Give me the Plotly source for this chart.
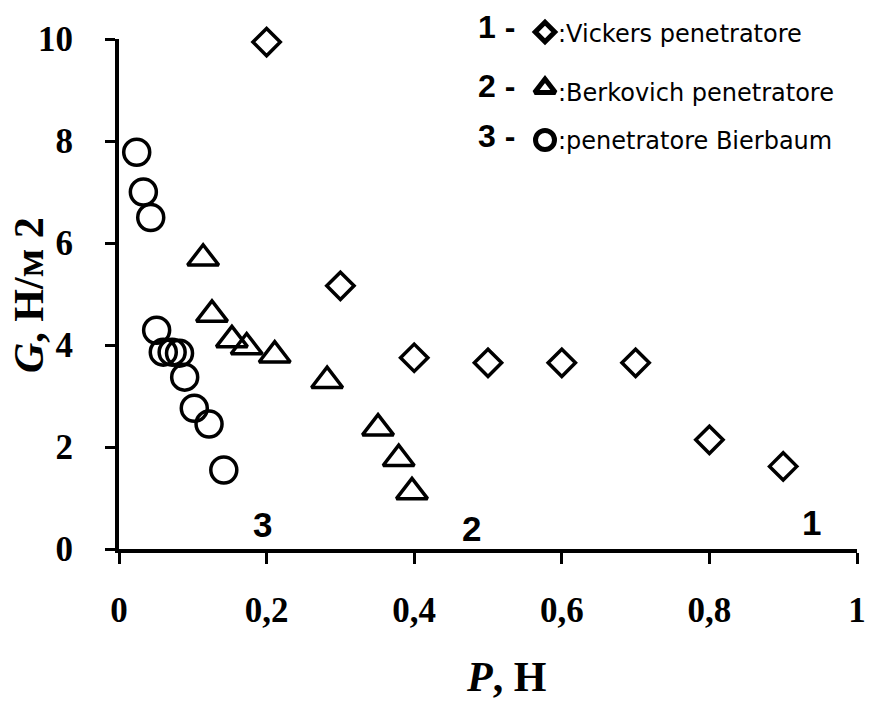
import plotly.graph_objects as go

# Data
vickers_p = [0.2, 0.3, 0.4, 0.5, 0.6, 0.7, 0.8, 0.9]
vickers_g = [9.94, 5.16, 3.75, 3.65, 3.65, 3.65, 2.14, 1.62]

berk_p = [0.114, 0.126, 0.153, 0.173, 0.211, 0.282, 0.351, 0.379, 0.397]
berk_g = [5.7, 4.6, 4.1, 3.96, 3.8, 3.3, 2.37, 1.77, 1.12]

bier_p = [0.024, 0.033, 0.043, 0.051, 0.060, 0.072, 0.082, 0.089, 0.102, 0.122, 0.142]
bier_g = [7.78, 7.0, 6.5, 4.29, 3.86, 3.86, 3.84, 3.37, 2.76, 2.45, 1.55]

x_ticks = [0, 0.2, 0.4, 0.6, 0.8, 1]
x_ticklabels = ["0", "0,2", "0,4", "0,6", "0,8", "1"]
y_ticks = [0, 2, 4, 6, 8, 10]

legend_nums = ["1 -", "2 -", "3 -"]
legend_texts = [":Vickers penetratore", ":Berkovich penetratore", ":penetratore Bierbaum"]
legend_symbols = ["diamond-open", "triangle-up-open", "circle-open"]

curve_labels = ["1", "2", "3"]
curve_label_p = [0.939, 0.477, 0.194]
curve_label_g = [0.51, 0.41, 0.49]

W, H = 875, 701
# plot area in pixels
PL, PR, PT, PB = 119, 857, 39, 549

fig = go.Figure()

fig.add_trace(go.Scatter(x=vickers_p, y=vickers_g, mode="markers", cliponaxis=False,
                         marker=dict(symbol="diamond-open", size=21, color="black", line=dict(width=3.5, color="black")),
                         showlegend=False))
fig.add_trace(go.Scatter(x=berk_p, y=berk_g, mode="markers", cliponaxis=False,
                         marker=dict(symbol="triangle-up-open", size=27, color="black", line=dict(width=3.5, color="black")),
                         showlegend=False))
fig.add_trace(go.Scatter(x=bier_p, y=bier_g, mode="markers", cliponaxis=False,
                         marker=dict(symbol="circle-open", size=26, color="black", line=dict(width=3.5, color="black")),
                         showlegend=False))

# legend keys on a full-figure pixel overlay
leg_marker_x = 545
leg_marker_y = [32, 88, 140]
leg_sizes = [15, 18, 19]
for sym, yy, sz in zip(legend_symbols, leg_marker_y, leg_sizes):
    fig.add_trace(go.Scatter(x=[leg_marker_x], y=[yy], xaxis="x2", yaxis="y2", mode="markers",
                             cliponaxis=False,
                             marker=dict(symbol=sym, size=sz, color="black", line=dict(width=5, color="black")),
                             showlegend=False, hoverinfo="skip"))

annotations = []
num_y = [27, 86, 136]
text_y = [34, 93, 141]
for num, txt, ny, ty in zip(legend_nums, legend_texts, num_y, text_y):
    annotations.append(dict(x=496, y=ny, xref="x2", yref="y2", text="<b>" + num + "</b>",
                            showarrow=False, xanchor="center", yanchor="middle",
                            font=dict(family="Liberation Sans", size=32, color="black")))
    annotations.append(dict(x=556, y=ty, xref="x2", yref="y2", text=txt,
                            showarrow=False, xanchor="left", yanchor="middle",
                            font=dict(family="DejaVu Sans", size=24, color="black")))

for lab, px, gy in zip(curve_labels, curve_label_p, curve_label_g):
    annotations.append(dict(x=px, y=gy, xref="x", yref="y", text="<b>" + lab + "</b>", showarrow=False,
                            xanchor="center", yanchor="middle",
                            font=dict(family="Liberation Sans", size=35, color="black")))

# axis titles
annotations.append(dict(x=506, y=677, xref="x2", yref="y2", text="<b><i>P</i>, Н</b>", showarrow=False,
                        xanchor="center", yanchor="middle",
                        font=dict(family="Liberation Serif", size=42, color="black")))
annotations.append(dict(x=29, y=295, xref="x2", yref="y2", text="<b><i>G</i>, Н/м 2</b>", showarrow=False,
                        textangle=-90, xanchor="center", yanchor="middle",
                        font=dict(family="Liberation Serif", size=42, color="black")))

fig.update_layout(
    width=W, height=H,
    margin=dict(l=0, r=0, t=0, b=0),
    paper_bgcolor="white", plot_bgcolor="rgba(0,0,0,0)",
    showlegend=False,
    annotations=annotations,
    xaxis=dict(domain=[PL / W, PR / W], anchor="y", range=[0, 1], tickvals=x_ticks, ticktext=x_ticklabels,
               showline=True, linecolor="black", linewidth=4, showgrid=False, zeroline=False,
               ticks="outside", ticklen=11, tickwidth=3, tickcolor="black",
               ticklabelstandoff=16, automargin=False,
               tickfont=dict(family="Liberation Serif", size=35, color="black", weight="bold")),
    yaxis=dict(domain=[1 - PB / H, 1 - PT / H], anchor="x", range=[0, 10], tickvals=y_ticks,
               showline=True, linecolor="black", linewidth=4, showgrid=False, zeroline=False,
               ticks="outside", ticklen=10, tickwidth=3, tickcolor="black",
               ticklabelstandoff=25, automargin=False,
               tickfont=dict(family="Liberation Serif", size=35, color="black", weight="bold")),
    xaxis2=dict(domain=[0, 1], anchor="y2", range=[0, W], visible=False, fixedrange=True),
    yaxis2=dict(domain=[0, 1], anchor="x2", range=[H, 0], visible=False, fixedrange=True),
)

fig.write_html("out.html", config={"displayModeBar": False},
               post_script="document.body.style.margin='0px';")
